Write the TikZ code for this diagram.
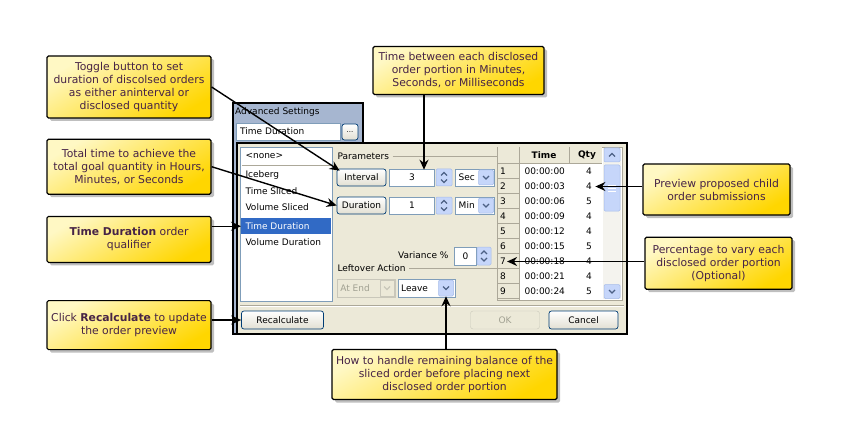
\documentclass[tikz,border=0pt]{standalone}
\usepackage{fontspec}
\setmainfont{DejaVu Sans}
\usetikzlibrary{positioning, arrows.meta, shadows, calc}
\usepackage{xcolor}
\definecolor{calloutlight}{RGB}{255,248,196}
\definecolor{calloutdark}{RGB}{255,214,0}
\definecolor{callouttext}{RGB}{70,35,70}
\definecolor{panelblue}{RGB}{166,182,208}
\definecolor{dialogface}{RGB}{236,233,216}
\definecolor{selblue}{RGB}{49,106,197}
\definecolor{fieldedge}{RGB}{127,157,185}
\definecolor{spinfill}{RGB}{198,214,250}
\definecolor{spinedge}{RGB}{166,188,234}
\definecolor{spinglyph}{RGB}{77,97,133}
\definecolor{btnedge}{RGB}{0,60,116}
\definecolor{btnbottom}{RGB}{226,223,210}
\definecolor{greytext}{RGB}{161,161,146}
\definecolor{greyedge}{RGB}{201,199,186}
\definecolor{gridline}{RGB}{172,168,153}
\definecolor{trackfill}{RGB}{244,243,238}

\begin{document}
\begin{tikzpicture}[
  x=1pt, y=-1pt,
  node distance=20pt,
  callout/.style={draw=black, line width=1.2pt, rounded corners=1.5pt, top color=calloutlight, bottom color=calloutdark, shading angle=30, drop shadow={shadow xshift=3pt, shadow yshift=-3pt, fill=black, opacity=0.25}, text=callouttext, align=center, inner sep=1pt, font=\fontsize{10.8}{13}\selectfont},
  arrow/.style={-{Stealth[length=10pt, width=9pt]}, line width=1.4pt, black},
  winfont/.style={font=\fontsize{9}{11}\selectfont},
  field/.style={draw=fieldedge, fill=white, line width=0.6pt, inner sep=0pt, font=\fontsize{9}{11}\selectfont},
  btn/.style={draw=btnedge, top color=white, bottom color=btnbottom, rounded corners=2.5pt, line width=0.7pt, inner sep=0pt, font=\fontsize{9}{11}\selectfont},
  spinbox/.style={draw=spinedge, fill=spinfill, rounded corners=1.2pt, line width=0.5pt, inner sep=0pt},
  glyph/.style={draw=spinglyph, line width=1.2pt},
  etched/.style={draw=gridline, line width=0.5pt}
]
\useasboundingbox (0,0) rectangle (849,433);

% Advanced settings panel
\draw[fill=panelblue, line width=1.5pt] (233,103) rectangle (363,334);
\node[winfont, anchor=west, inner sep=1pt] (advtitle) at (234,112) {Advanced Settings};
\node[field, minimum width=104pt, minimum height=17pt] (qualfield) at (288,131.5) {};
\node[winfont, anchor=west] at ([xshift=1pt]qualfield.west) {Time Duration};
\node[btn, minimum width=16pt, minimum height=16pt, font=\fontsize{7}{8}\selectfont] (qualbtn) at (350,132) {...};

% Dialog
\draw[fill=dialogface, line width=2pt] (237,143) rectangle (627,334);

% Qualifier list
\node[field, minimum width=92pt, minimum height=154pt, anchor=north west] (qualist) at (240,147) {};
\node[winfont, anchor=west] (none) at (242,156) {<none>};
\draw[etched] (242,165) -- (330,165);
\node[winfont, anchor=west] (iceberg) at (242,175) {Iceberg};
\node[winfont, anchor=west] (timesliced) at (242,191) {Time Sliced};
\node[winfont, anchor=west] (volsliced) at (242,207) {Volume Sliced};
\node[fill=selblue, minimum width=90pt, minimum height=16pt, inner sep=0pt, anchor=north west] (listsel) at (241,218) {};
\node[winfont, anchor=west, text=white] at (242,226) {Time Duration};
\node[winfont, anchor=west] (voldur) at (242,242) {Volume Duration};

% Grid
\node[draw=gridline, fill=white, minimum width=125pt, minimum height=153pt, anchor=north west, inner sep=0pt] (grid) at (497,147) {};
\fill[dialogface] (497.5,147.5) rectangle (602,163);
\fill[dialogface] (497.5,163) rectangle (519,299.5);
\draw[etched] (497,163) -- (602,163);
\draw[etched] (519,147) -- (519,300);
\draw[etched] (569,147) -- (569,163);
\node[winfont, font=\fontsize{9}{11}\selectfont\bfseries] (timehead) at (544,155) {Time};
\node[winfont, font=\fontsize{9}{11}\selectfont\bfseries] (qtyhead) at (587,155) {Qty};
\foreach \i/\t/\q in {1/00/4, 2/03/4, 3/06/5, 4/09/4, 5/12/4, 6/15/5, 7/18/4, 8/21/4, 9/24/5} {
  \draw[etched] (497,{163+15*\i}) -- (519,{163+15*\i});
  \node[winfont, anchor=west, inner sep=1pt] (n\i) at (499,{156.5+15*\i}) {\i};
  \node[winfont, anchor=west] (t\i) at (521,{156.5+15*\i}) {00:00:\t};
  \node[winfont] (q\i) at (589,{156.5+15*\i}) {\q};
}
% scrollbar
\fill[trackfill] (603,148) rectangle (621,299);
\node[spinbox, minimum width=16pt, minimum height=14pt] (scrollup) at (612,155) {};
\draw[glyph] ([shift={(-3,1.5)}]scrollup.center) -- ([shift={(0,-1.5)}]scrollup.center) -- ([shift={(3,1.5)}]scrollup.center);
\node[spinbox, minimum width=16pt, minimum height=46pt] (thumb) at (612,188) {};
\draw[draw=white, line width=0.6pt] (608,185) -- (616,185) (608,188) -- (616,188) (608,191) -- (616,191);
\node[spinbox, minimum width=16pt, minimum height=14pt] (scrolldown) at (612,291.5) {};
\draw[glyph] ([shift={(-3,-1.5)}]scrolldown.center) -- ([shift={(0,1.5)}]scrolldown.center) -- ([shift={(3,-1.5)}]scrolldown.center);

% Parameters
\node[winfont, anchor=west] (params) at (334,156) {Parameters};
\draw[etched] (params.east) -- (params.east -| grid.west);
\node[btn, minimum width=49pt, minimum height=17pt] (intervalbtn) at (361.5,177.5) {Interval};
\node[field, minimum width=45pt, minimum height=17pt] (secfield) at (412,177.5) {3};
\node[spinbox, minimum width=16pt, minimum height=17pt] (secspin) at (444,177.5) {};
\draw[glyph] ([shift={(-3,-2)}]secspin.center) -- ([shift={(0,-5)}]secspin.center) -- ([shift={(3,-2)}]secspin.center);
\draw[glyph] ([shift={(-3,2)}]secspin.center) -- ([shift={(0,5)}]secspin.center) -- ([shift={(3,2)}]secspin.center);
\node[field, minimum width=39pt, minimum height=17pt] (secunit) at (475,177.5) {};
\node[winfont, anchor=west] at ([xshift=0pt]secunit.west) {Sec};
\node[spinbox, minimum width=15pt, minimum height=15pt] (secdrop) at (486,177.5) {};
\draw[glyph] ([shift={(-3,-1.5)}]secdrop.center) -- ([shift={(0,1.5)}]secdrop.center) -- ([shift={(3,-1.5)}]secdrop.center);

\node[btn, minimum width=49pt, minimum height=17pt] (durationbtn) at (361.5,205.5) {Duration};
\node[field, minimum width=45pt, minimum height=17pt] (minfield) at (412,205.5) {1};
\node[spinbox, minimum width=16pt, minimum height=17pt] (minspin) at (444,205.5) {};
\draw[glyph] ([shift={(-3,-2)}]minspin.center) -- ([shift={(0,-5)}]minspin.center) -- ([shift={(3,-2)}]minspin.center);
\draw[glyph] ([shift={(-3,2)}]minspin.center) -- ([shift={(0,5)}]minspin.center) -- ([shift={(3,2)}]minspin.center);
\node[field, minimum width=39pt, minimum height=17pt] (minunit) at (475,205.5) {};
\node[winfont, anchor=west] at (minunit.west) {Min};
\node[spinbox, minimum width=15pt, minimum height=15pt] (mindrop) at (486,205.5) {};
\draw[glyph] ([shift={(-3,-1.5)}]mindrop.center) -- ([shift={(0,1.5)}]mindrop.center) -- ([shift={(3,-1.5)}]mindrop.center);

% Variance
\node[winfont, anchor=east] (varlabel) at (452,255) {Variance \%};
\node[field, minimum width=22pt, minimum height=18pt] (varfield) at (465.5,256) {0};
\node[spinbox, minimum width=14pt, minimum height=18pt] (varspin) at (484,256) {};
\draw[glyph] ([shift={(-3,-2)}]varspin.center) -- ([shift={(0,-5)}]varspin.center) -- ([shift={(3,-2)}]varspin.center);
\draw[glyph] ([shift={(-3,2)}]varspin.center) -- ([shift={(0,5)}]varspin.center) -- ([shift={(3,2)}]varspin.center);

% Leftover action
\node[winfont, anchor=west] (leftlabel) at (334,268) {Leftover Action};
\draw[etched] (leftlabel.east) -- (leftlabel.east -| grid.west);
\node[draw=greyedge, fill=dialogface, minimum width=58pt, minimum height=18pt, inner sep=0pt] (atend) at (366,288) {};
\node[winfont, anchor=west, text=greytext] at (atend.west) {At End};
\node[draw=greyedge, fill=dialogface, minimum width=14pt, minimum height=16pt, inner sep=0pt] (atenddrop) at (387,288) {};
\draw[draw=greyedge, line width=1.2pt] ([shift={(-3,-1.5)}]atenddrop.center) -- ([shift={(0,1.5)}]atenddrop.center) -- ([shift={(3,-1.5)}]atenddrop.center);
\node[field, minimum width=57pt, minimum height=18pt] (leavefield) at (426.5,288) {};
\node[winfont, anchor=west] at (leavefield.west) {Leave};
\node[spinbox, minimum width=15pt, minimum height=16pt] (leavebtn) at (446,288) {};
\draw[glyph] ([shift={(-3,-1.5)}]leavebtn.center) -- ([shift={(0,1.5)}]leavebtn.center) -- ([shift={(3,-1.5)}]leavebtn.center);

% Bottom buttons
\draw[etched] (240,305) -- (624,305);
\draw[white, line width=0.5pt] (240,306) -- (624,306);
\node[btn, minimum width=82pt, minimum height=18pt] (recalc) at (282.5,320) {Recalculate};
\node[draw=greyedge, fill=dialogface, rounded corners=2.5pt, minimum width=69pt, minimum height=18pt, inner sep=0pt, winfont, text=greytext] (okbtn) at (505,320) {OK};
\node[btn, minimum width=69pt, minimum height=18pt] (cancelbtn) at (583.5,320) {Cancel};

% Callouts
\node[callout, minimum width=164pt, minimum height=62pt] (toggle) at (129,87) {Toggle button to set\\duration of discolsed orders\\as either aninterval or\\disclosed quantity};
\node[callout, minimum width=164pt, minimum height=55pt, below=20pt of toggle] (total) {Total time to achieve the\\total goal quantity in Hours,\\Minutes, or Seconds};
\node[callout, minimum width=164pt, minimum height=46pt, below=21pt of total] (tdur) {{\bfseries Time Duration} order\\qualifier};
\node[callout, minimum width=164pt, minimum height=49pt, below=37pt of tdur] (recalcnote) {Click {\bfseries Recalculate} to update\\the order preview};
\node[callout, minimum width=171pt, minimum height=48pt] (timebetween) at (458.5,70.5) {Time between each disclosed\\order portion in Minutes,\\Seconds, or Milliseconds};
\node[callout, minimum width=225pt, minimum height=50pt] (leftover) at (444.5,374.5) {How to handle remaining balance of the\\sliced order before placing next\\disclosed order portion};
\node[callout, minimum width=147pt, minimum height=51pt] (preview) at (716.5,189.5) {Preview proposed child\\order submissions};
\node[callout, minimum width=147pt, minimum height=52pt, below=21pt of preview, xshift=2pt] (percent) {Percentage to vary each\\disclosed order portion\\(Optional)};

% Arrows
\coordinate (secaim) at ([xshift=12pt, yshift=-1pt]secfield.north);
\draw[arrow] (toggle.east) -- ([xshift=3pt, yshift=-2pt]intervalbtn.north west);
\draw[arrow] (total.east) -- (durationbtn.west);
\draw[arrow] (tdur.east |- listsel) -- (listsel.west);
\draw[arrow] (recalcnote.east |- recalc) -- (recalc.west);
\draw[arrow] (timebetween.south -| secaim) -- (secaim);
\draw[arrow] (leftover.north -| leavebtn) -- (leavebtn.south);
\draw[arrow] (preview.west |- q2) -- (q2.east);
\draw[arrow] (percent.west |- n7) -- (n7.east);

\end{tikzpicture}
\end{document}
